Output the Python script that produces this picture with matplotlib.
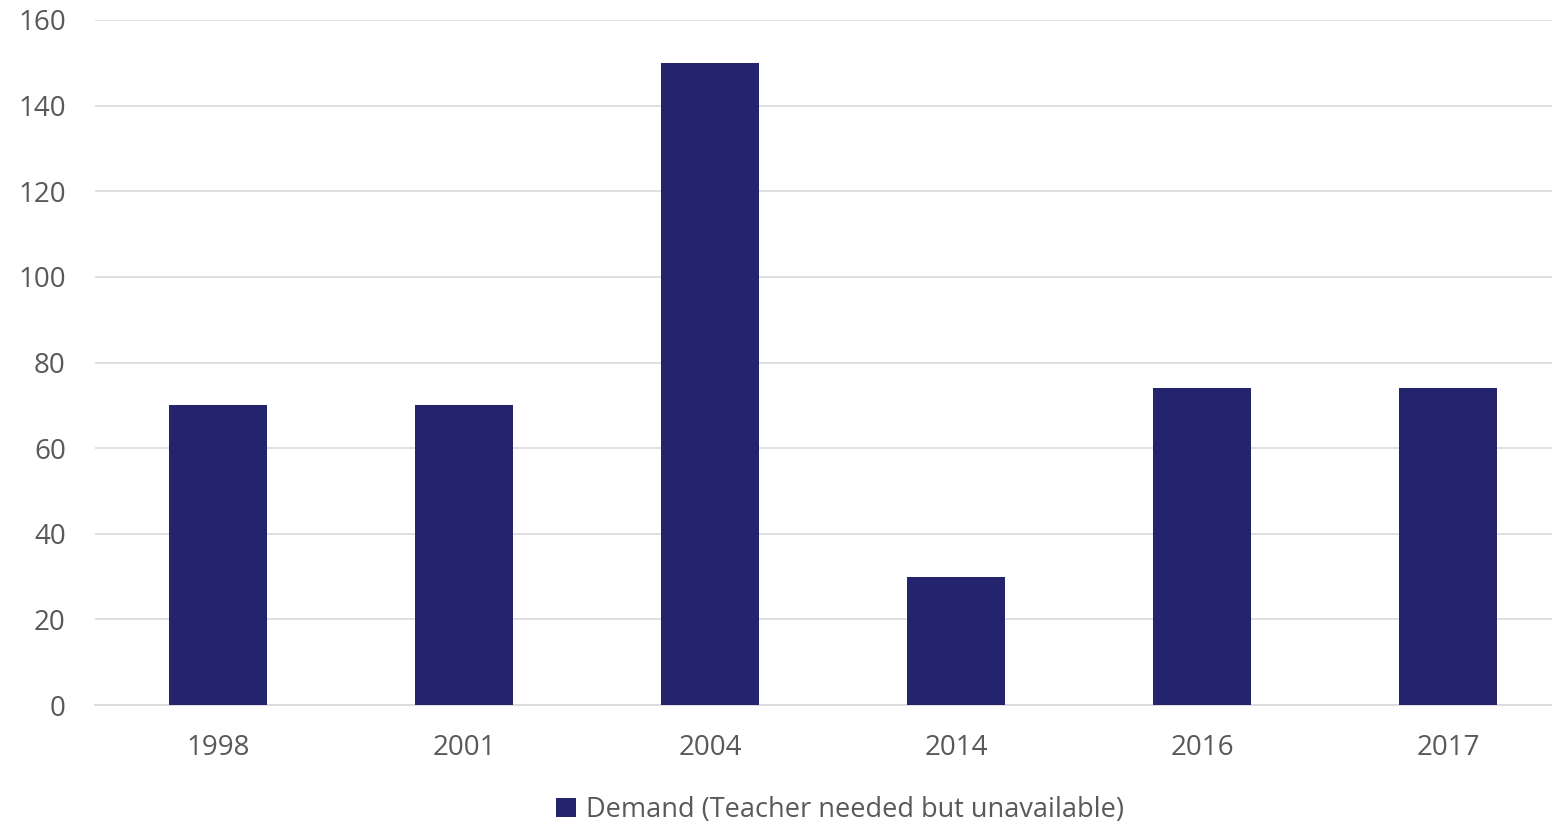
import matplotlib.pyplot as plt
from matplotlib.patches import Patch

years = ['1998', '2001', '2004', '2014', '2016', '2017']
demand = [70, 70, 150, 30, 74, 74]
series_label = 'Demand (Teacher needed but unavailable)'

plt.rcParams['font.family'] = ['Open Sans', 'DejaVu Sans']

fig = plt.figure(figsize=(15.52, 8.26), dpi=100)
ax = fig.add_axes([95 / 1552, 1 - 705 / 826, 1 - 95 / 1552, 685 / 826])

bar_color = '#24246e'
x = range(len(years))
ax.bar(x, demand, width=0.4, color=bar_color, zorder=3)

ax.set_ylim(0, 160)
ax.set_yticks(range(0, 161, 20))
ax.set_xlim(-0.5, 5.5 - 19 / 246)
ax.set_xticks(list(x))
ax.set_xticklabels(years)

ax.grid(axis='y', color='#d9d9d9', linewidth=1.2, zorder=0)
for s in ['top', 'right', 'left']:
    ax.spines[s].set_visible(False)
ax.spines['bottom'].set_color('#d9d9d9')
ax.spines['bottom'].set_linewidth(1.2)
ax.tick_params(axis='both', length=0, labelsize=20, labelcolor='#595959')
ax.tick_params(axis='x', pad=21)
ax.tick_params(axis='y', pad=21)

handles = [Patch(facecolor=bar_color, label=series_label)]
fig.legend(handles=handles, loc='center', bbox_to_anchor=(840 / 1552, 1 - 810 / 826),
           frameon=False, fontsize=19.5, handlelength=0.75, handleheight=0.75,
           handletextpad=0.35, labelcolor='#595959')

fig.savefig('out.png', dpi=100)
